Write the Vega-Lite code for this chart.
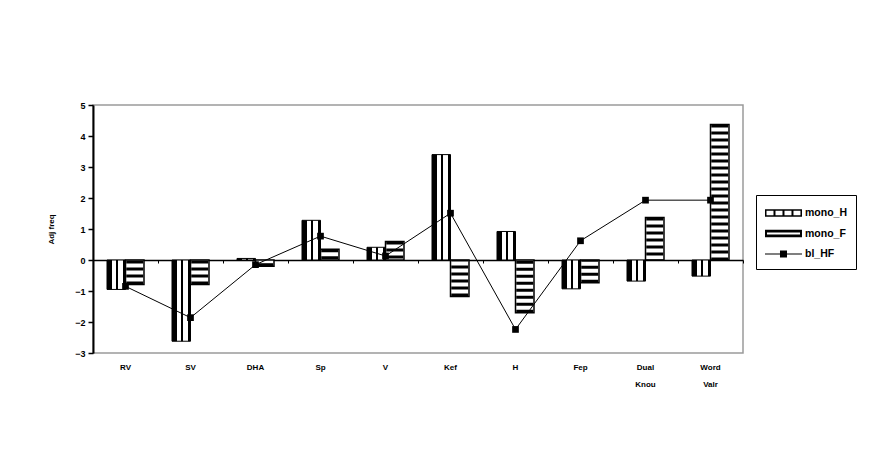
{
  "$schema": "https://vega.github.io/schema/vega-lite/v6.json",
  "autosize": "none",
  "width": 650,
  "height": 248,
  "padding": {"left": 93, "top": 105, "right": 131, "bottom": 115},
  "background": "white",
  "config": {
    "font": "Liberation Sans",
    "view": {"stroke": "#9a9a9a", "strokeWidth": 1.5}
  },
  "data": {
    "values": [
      {"measure": "RV", "series": "mono_H", "value": -0.95},
      {"measure": "RV", "series": "mono_F", "value": -0.79},
      {"measure": "RV", "series": "bl_HF", "value": -0.85},
      {"measure": "SV", "series": "mono_H", "value": -2.62},
      {"measure": "SV", "series": "mono_F", "value": -0.79},
      {"measure": "SV", "series": "bl_HF", "value": -1.86},
      {"measure": "DHA", "series": "mono_H", "value": 0.05},
      {"measure": "DHA", "series": "mono_F", "value": -0.2},
      {"measure": "DHA", "series": "bl_HF", "value": -0.15},
      {"measure": "Sp", "series": "mono_H", "value": 1.28},
      {"measure": "Sp", "series": "mono_F", "value": 0.35},
      {"measure": "Sp", "series": "bl_HF", "value": 0.77},
      {"measure": "V", "series": "mono_H", "value": 0.41},
      {"measure": "V", "series": "mono_F", "value": 0.6},
      {"measure": "V", "series": "bl_HF", "value": 0.13},
      {"measure": "Kef", "series": "mono_H", "value": 3.4},
      {"measure": "Kef", "series": "mono_F", "value": -1.18},
      {"measure": "Kef", "series": "bl_HF", "value": 1.51},
      {"measure": "H", "series": "mono_H", "value": 0.92},
      {"measure": "H", "series": "mono_F", "value": -1.7},
      {"measure": "H", "series": "bl_HF", "value": -2.24},
      {"measure": "Fep", "series": "mono_H", "value": -0.93},
      {"measure": "Fep", "series": "mono_F", "value": -0.73},
      {"measure": "Fep", "series": "bl_HF", "value": 0.62},
      {"measure": "Dual Knou", "series": "mono_H", "value": -0.68},
      {"measure": "Dual Knou", "series": "mono_F", "value": 1.37},
      {"measure": "Dual Knou", "series": "bl_HF", "value": 1.93},
      {"measure": "Word Valr", "series": "mono_H", "value": -0.52},
      {"measure": "Word Valr", "series": "mono_F", "value": 4.37},
      {"measure": "Word Valr", "series": "bl_HF", "value": 1.93}
    ]
  },
  "encoding": {
    "x": {
      "field": "measure",
      "type": "nominal",
      "sort": ["RV", "SV", "DHA", "Sp", "V", "Kef", "H", "Fep", "Dual Knou", "Word Valr"],
      "scale": {"paddingInner": 0, "paddingOuter": 0}
    },
    "y": {
      "field": "value",
      "type": "quantitative",
      "scale": {"domain": [-3, 5], "nice": false, "zero": false},
      "axis": {
        "title": "Adj freq",
        "values": [-3, -2, -1, 0, 1, 2, 3, 4, 5],
        "grid": false,
        "domainColor": "black",
        "domainWidth": 2,
        "tickColor": "black",
        "tickSize": 5,
        "tickWidth": 1.5,
        "labelColor": "black",
        "labelFontSize": 9,
        "labelFontWeight": "bold",
        "labelPadding": 3,
        "titleColor": "black",
        "titleFontSize": 8,
        "titleFontWeight": "bold",
        "titlePadding": 19
      }
    }
  },
  "layer": [
    {
      "transform": [{"filter": "datum.series === 'mono_H'"}],
      "mark": {
        "type": "bar",
        "stroke": "black",
        "strokeWidth": 1,
        "fill": {
          "gradient": "linear",
          "x1": 0, "y1": 0, "x2": 1, "y2": 0,
          "stops": [
            {"offset": 0, "color": "black"},
            {"offset": 0.26, "color": "black"},
            {"offset": 0.26, "color": "white"},
            {"offset": 0.47, "color": "white"},
            {"offset": 0.47, "color": "black"},
            {"offset": 0.6, "color": "black"},
            {"offset": 0.6, "color": "white"},
            {"offset": 0.86, "color": "white"},
            {"offset": 0.86, "color": "black"},
            {"offset": 1, "color": "black"}
          ]
        }
      },
      "encoding": {
        "x": {
          "field": "measure",
          "type": "nominal",
          "sort": ["RV", "SV", "DHA", "Sp", "V", "Kef", "H", "Fep", "Dual Knou", "Word Valr"],
          "axis": {
            "orient": "bottom",
            "title": null,
            "domain": false,
            "ticks": false,
            "labelAngle": 0,
            "labelColor": "black",
            "labelFontSize": 8,
            "labelFontWeight": "bold",
            "labelPadding": 10,
            "labelLineHeight": 17,
            "labelExpr": "split(datum.label, ' ')"
          }
        },
        "xOffset": {
          "field": "series",
          "scale": {"domain": ["mono_H", "mono_F"], "paddingInner": 0, "paddingOuter": 0.757}
        }
      }
    },
    {
      "transform": [{"filter": "datum.series === 'mono_F'"}],
      "mark": {"type": "bar", "fill": "white", "stroke": "black", "strokeWidth": 1.5},
      "encoding": {
        "x": {"field": "measure", "type": "nominal", "sort": ["RV", "SV", "DHA", "Sp", "V", "Kef", "H", "Fep", "Dual Knou", "Word Valr"], "axis": null},
        "xOffset": {"field": "series"}
      }
    },
    {
      "transform": [{"filter": "datum.series === 'mono_F'"}],
      "mark": {"type": "rule", "color": "black", "strokeWidth": 17, "strokeDash": [3, 4]},
      "encoding": {
        "x": {"field": "measure", "type": "nominal", "sort": ["RV", "SV", "DHA", "Sp", "V", "Kef", "H", "Fep", "Dual Knou", "Word Valr"], "axis": null},
        "xOffset": {"field": "series"},
        "y2": {"datum": 0}
      }
    },
    {
      "transform": [{"filter": "datum.series === 'bl_HF'"}],
      "mark": {"type": "line", "color": "black", "strokeWidth": 1},
      "encoding": {
        "x": {
          "field": "measure",
          "type": "nominal",
          "sort": ["RV", "SV", "DHA", "Sp", "V", "Kef", "H", "Fep", "Dual Knou", "Word Valr"],
          "axis": {
            "orient": "bottom",
            "offset": -93,
            "title": null,
            "labels": false,
            "domain": true,
            "domainColor": "black",
            "domainWidth": 1.5,
            "ticks": true,
            "tickBand": "extent",
            "tickColor": "black",
            "tickSize": 3,
            "tickWidth": 1
          }
        }
      }
    },
    {
      "transform": [{"filter": "datum.series === 'bl_HF'"}],
      "mark": {"type": "point", "shape": "square", "filled": true, "color": "black", "size": 45, "opacity": 1},
      "encoding": {
        "x": {"field": "measure", "type": "nominal", "sort": ["RV", "SV", "DHA", "Sp", "V", "Kef", "H", "Fep", "Dual Knou", "Word Valr"], "axis": null}
      }
    },
    {
      "description": "Legend swatches: hatched bar keys and the line-with-marker key",
      "transform": [{"filter": "datum.series === 'bl_HF'"}],
      "mark": {"type": "point", "filled": true, "color": "black", "size": 1, "opacity": 0},
      "encoding": {
        "x": {"field": "measure", "type": "nominal", "sort": ["RV", "SV", "DHA", "Sp", "V", "Kef", "H", "Fep", "Dual Knou", "Word Valr"], "axis": null},
        "shape": {
          "field": "series",
          "scale": {
            "domain": ["mono_H", "mono_F", "bl_HF"],
            "range": [
              "M-1,-0.41H3.11V0.41H-1Z M-0.833,-0.24V0.24H-0.056V-0.24Z M0.166,-0.24V0.24H0.943V-0.24Z M1.165,-0.24V0.24H1.942V-0.24Z M2.164,-0.24V0.24H2.941V-0.24Z",
              "M-1,-0.41H3.11V0.41H-1Z M-0.78,-0.11V0.11H2.89V-0.11Z",
              "M-1,-0.055H3.11V0.055H-1Z M0.665,-0.39H1.445V0.39H0.665Z"
            ]
          },
          "legend": {
            "title": null,
            "orient": "none",
            "legendX": 663,
            "legendY": 90,
            "symbolSize": 324,
            "symbolStrokeWidth": 0,
            "symbolFillColor": "black",
            "symbolOpacity": 1,
            "labelColor": "black",
            "labelFontSize": 10.5,
            "labelFontWeight": "bold",
            "labelOffset": 22,
            "rowPadding": 5.5,
            "padding": 9,
            "strokeColor": "black",
            "fillColor": "white"
          }
        }
      }
    }
  ],
  "resolve": {"axis": {"x": "independent"}}
}
